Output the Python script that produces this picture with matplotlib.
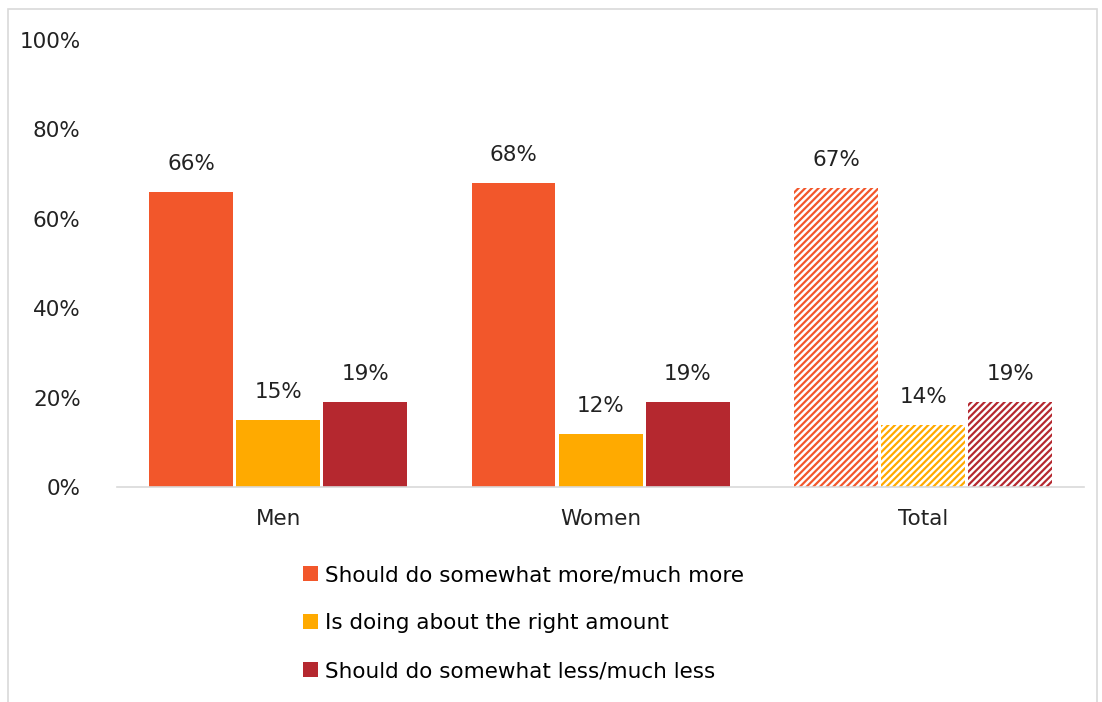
import matplotlib.pyplot as plt
import numpy as np
from matplotlib.patches import Rectangle

plt.rcParams["font.family"] = ["DejaVu Sans"]
plt.rcParams["hatch.linewidth"] = 1.6

groups = ["Men", "Women", "Total"]
series = ["Should do somewhat more/much more",
          "Is doing about the right amount",
          "Should do somewhat less/much less"]
more = [66, 68, 67]
right = [15, 12, 14]
less = [19, 19, 19]
colors = ["#F2572B", "#FFAA00", "#B5282F"]
yticks = [0, 20, 40, 60, 80, 100]

fig = plt.figure(figsize=(11.02, 7.02), dpi=100)
ax = fig.add_axes([0.106, 0.306, 0.878, 0.637])

fig.patches.append(Rectangle((8 / 1102, -0.05), 1089 / 1102, 0.05 + 693 / 702,
                             transform=fig.transFigure, fill=False,
                             edgecolor="#D9D9D9", linewidth=1.2))

x = np.arange(len(groups))
w = 0.26
step = 0.27
for i, (vals, c, name) in enumerate(zip([more, right, less], colors, series)):
    pos = x + (i - 1) * step
    # solid bars for Men / Women, hatched for Total
    ax.bar(pos[:2], vals[:2], width=w, color=c, label=name)
    ax.bar(pos[2:], vals[2:], width=w, facecolor="white", edgecolor=c,
           hatch="/////", linewidth=0)
    for p, v in zip(pos, vals):
        ax.text(p, v + 4.0, f"{v}%", ha="center", va="bottom", fontsize=15.5,
                color="#222222")

ax.set_xlim(-0.5, 2.5)
ax.set_ylim(0, 100)
ax.set_yticks(yticks)
ax.set_yticklabels([f"{t}%" for t in yticks])
ax.set_xticks(x)
ax.set_xticklabels(groups)
ax.tick_params(axis="both", length=0, labelsize=15.5, colors="#222222")
ax.tick_params(axis="y", pad=26)
ax.tick_params(axis="x", pad=16)
for s in ["top", "right", "left"]:
    ax.spines[s].set_visible(False)
ax.spines["bottom"].set_color("#D9D9D9")
ax.spines["bottom"].set_linewidth(1.2)

fig.legend(loc="upper left", bbox_to_anchor=(0.267, 0.207), frameon=False,
           fontsize=15.5, handlelength=0.7, handleheight=0.7, handletextpad=0.35,
           labelspacing=1.3, borderaxespad=0)

fig.savefig("out.png", dpi=100)
